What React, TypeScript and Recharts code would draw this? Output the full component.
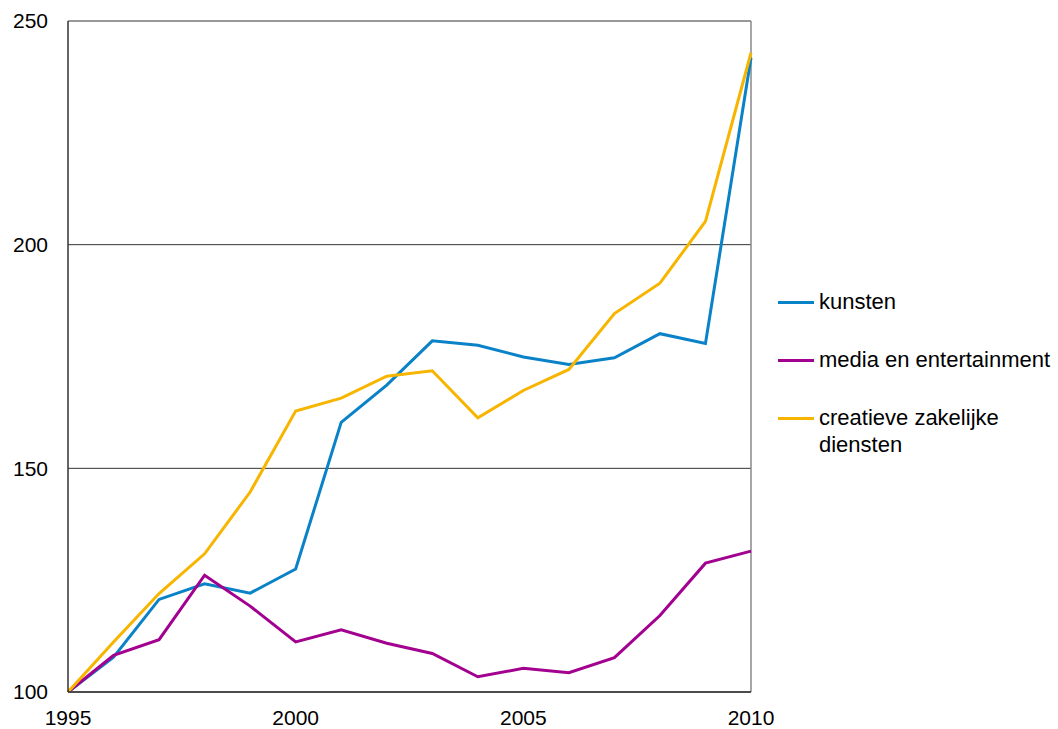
import React from 'react';
import { LineChart, Line, XAxis, YAxis, CartesianGrid, ReferenceLine, Legend } from 'recharts';

const years = [1995, 1996, 1997, 1998, 1999, 2000, 2001, 2002, 2003, 2004, 2005, 2006, 2007, 2008, 2009, 2010];
const kunsten = [100, 107.8, 120.7, 124.2, 122.1, 127.5, 160.3, 168.6, 178.5, 177.5, 174.9, 173.2, 174.7, 180.1, 177.9, 241.8];
const media = [100, 108.2, 111.7, 126.1, 119.2, 111.2, 113.9, 110.9, 108.6, 103.4, 105.3, 104.3, 107.7, 117.1, 128.8, 131.5];
const creatief = [100, 111.2, 122.0, 130.9, 144.7, 162.8, 165.7, 170.6, 171.8, 161.3, 167.4, 172.1, 184.6, 191.4, 205.2, 242.9];
const xTicks = [1995, 2000, 2005, 2010];
const yTicks = [100, 150, 200, 250];
const seriesNames = ['kunsten', 'media en entertainment', 'creatieve zakelijke diensten'];
const seriesColors = ['#0A82C8', '#A2008F', '#F7B500'];

const data = years.map((y, i) => ({ year: y, kunsten: kunsten[i], media: media[i], creatief: creatief[i] }));

const FONT = '"Liberation Sans", Arial, sans-serif';

const LegendContent = () => {
  const tops = [0, 58, 116];
  return (
    <div style={{ position: 'relative', width: 280, height: 180, fontFamily: FONT, fontSize: 22, color: '#000' }}>
      {seriesNames.map((name, i) => (
        <div key={i} style={{ position: 'absolute', left: 0, top: tops[i], display: 'flex', alignItems: 'flex-start' }}>
          <div style={{ width: 36, height: 3, background: seriesColors[i], marginTop: 12.5, marginRight: 5, flex: 'none' }} />
          <div style={{ lineHeight: '27px', width: i === 2 ? 200 : 260, whiteSpace: i === 2 ? 'normal' : 'nowrap' }}>{name}</div>
        </div>
      ))}
    </div>
  );
};

export default function App() {
  return (
    <div style={{ position: 'absolute', left: 0, top: 0, width: 1058, height: 729, background: '#fff' }}>
      <LineChart width={1058} height={729} data={data} margin={{ top: 21, right: 307, bottom: 0, left: 0 }}>
        <CartesianGrid horizontal={true} vertical={false} stroke="#333" strokeWidth={1} />
        <XAxis
          dataKey="year"
          type="number"
          domain={[1995, 2010]}
          ticks={xTicks}
          height={37}
          tickLine={false}
          tickSize={0}
          tickMargin={18}
          axisLine={{ stroke: '#333', strokeWidth: 1.5 }}
          tick={{ fill: '#000', fontSize: 21, fontFamily: FONT }}
        />
        <YAxis
          type="number"
          domain={[100, 250]}
          ticks={yTicks}
          width={68}
          tickLine={false}
          tickSize={0}
          tickMargin={20}
          axisLine={{ stroke: '#333', strokeWidth: 1.5 }}
          tick={{ fill: '#000', fontSize: 21, fontFamily: FONT }}
        />
        <ReferenceLine x={2010} stroke="#888" strokeWidth={1.5} />
        <Line type="linear" dataKey="kunsten" name={seriesNames[0]} stroke={seriesColors[0]} strokeWidth={3} dot={false} isAnimationActive={false} />
        <Line type="linear" dataKey="media" name={seriesNames[1]} stroke={seriesColors[1]} strokeWidth={3} dot={false} isAnimationActive={false} />
        <Line type="linear" dataKey="creatief" name={seriesNames[2]} stroke={seriesColors[2]} strokeWidth={3} dot={false} isAnimationActive={false} />
        <Legend
          layout="vertical"
          align="center"
          verticalAlign="middle"
          content={<LegendContent />}
          wrapperStyle={{ left: 778, top: 288, width: 280, height: 180 }}
        />
      </LineChart>
    </div>
  );
}
